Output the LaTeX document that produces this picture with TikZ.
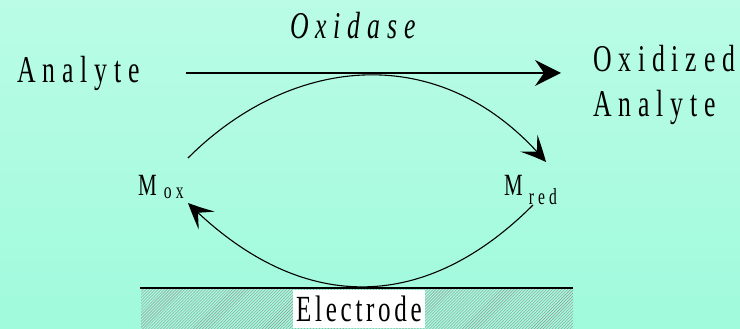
\documentclass[tikz,border=0pt]{standalone}
\usepackage{fontspec}
\usepackage{xcolor}
\usetikzlibrary{arrows.meta,patterns,bending}
\newfontfamily\labfont{Liberation Serif}[FakeStretch=0.68,LetterSpace=18]
\newfontfamily\elecfont{Liberation Serif}[FakeStretch=0.68,LetterSpace=10]
\definecolor{slideTop}{RGB}{186,252,230}
\definecolor{slideBot}{RGB}{160,250,220}
\definecolor{hatchGray}{RGB}{150,150,150}
\tikzset{
  biglabel/.style={inner sep=0pt,font=\labfont\fontsize{38}{45}\selectfont},
  mlabel/.style={inner sep=0pt,font=\labfont\fontsize{31}{32}\selectfont},
  cycle arc/.style={line width=1.1bp,-{Stealth[length=26bp,width=24bp,inset=12bp,bend]}}
}
\newcommand{\Sub}[2]{\raisebox{-#1}{\fontsize{23}{24}\selectfont #2}}
\begin{document}
\begin{tikzpicture}[x=1bp,y=-1bp]
\useasboundingbox (0,0) rectangle (740,328);
\fill[top color=slideTop,bottom color=slideBot] (0,0) rectangle (740,328);
% labels
\node[biglabel,anchor=base west] (analyte) at (17,82) {Analyte};
\node[biglabel,anchor=base west,font=\labfont\itshape\fontsize{38}{45}\selectfont] (oxidase) at (290,38) {Oxidase};
\node[biglabel,anchor=north west,align=left] (oxana) at (593,45) {Oxidized\\Analyte};
\node[mlabel,anchor=base west] (mox) at (138,195) {M\hspace{7bp}\Sub{3bp}{ox}};
\node[mlabel,anchor=base west] (mred) at (504,195) {M\hspace{6bp}\Sub{9bp}{red}};
% arc ends next to the mediator labels
\coordinate (oxout) at (188,158);
\coordinate (redin) at (546,162);
\coordinate (redout) at (533,205);
\coordinate (oxin) at (188,203);
% electrode
\fill[pattern=north east lines,pattern color=hatchGray] (141,288) rectangle (573,328);
\node[anchor=north,fill=white,inner sep=0pt,minimum width=132bp,text height=31bp,text depth=7bp,
      font=\elecfont\fontsize{37}{40}\selectfont] (electrode) at (359,290) {Electrode};
\draw[line width=2.4bp] (140,288) -- (573,288);
% reaction arrows
\draw[line width=1.5bp,-{Stealth[length=26bp,width=26bp,inset=9bp]},shorten <=46bp,shorten >=32bp]
  (analyte.east) -- (analyte.east -| oxana.west);
\draw[cycle arc] (oxout) .. controls (291,55) and (442,38) .. (redin);
\draw[cycle arc] (redout) .. controls (423,315) and (299,314) .. (oxin);
\end{tikzpicture}
\end{document}
